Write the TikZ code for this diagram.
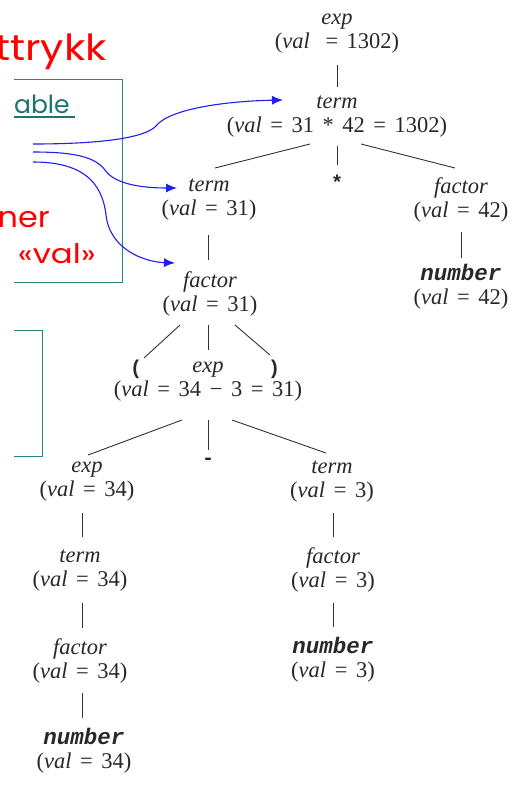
\documentclass[tikz,border=0pt]{standalone}
\usepackage{fontspec}
\setmainfont{Liberation Serif}
\newfontfamily\redfont{Poppins}
\newfontfamily\monob{Liberation Mono}
\usetikzlibrary{calc,arrows.meta}
\definecolor{teal1}{RGB}{40,130,130}
\definecolor{teal2}{RGB}{30,115,115}
\definecolor{arrblue}{RGB}{30,30,245}
\definecolor{treeline}{RGB}{50,50,50}
\definecolor{treetext}{RGB}{40,40,40}
\tikzset{
  tnode/.style={align=center, inner sep=0pt, text=treetext, font=\fontsize{22.5}{24}\selectfont},
  tsym/.style={inner sep=0pt, text=treetext, font=\fontsize{20}{24}\selectfont\monob\bfseries},
  tline/.style={draw=treeline, line width=0.9pt},
  barrow/.style={draw=arrblue, line width=1.1pt, -{Latex[length=11pt,width=9pt]}},
  redtxt/.style={text=red, inner sep=0pt},
}
\newcommand{\gsp}{\hspace{0.38em}}
\newcommand{\vl}[1]{(\textit{val}\gsp=\gsp#1)}
\newcommand{\nm}{{\monob\bfseries\itshape number}}
\begin{document}
\begin{tikzpicture}[x=1pt,y=-1pt]
\useasboundingbox (0,0) rectangle (529,801);
\clip (0,0) rectangle (529,801);
\fill[white] (0,0) rectangle (529,801);
% left decorations
\node[redtxt, anchor=base east, xscale=1.15, font=\fontsize{36}{40}\selectfont\redfont] (ttl) at (107,60) {ttrykk};
\draw[teal1, line width=1pt] (14,79) -- (122,79) -- (122,282) -- (14,282);
\draw[teal1, line width=1pt] (14,330) -- (42,330) -- (42,456) -- (14,456);
\node[anchor=base west, text=teal2, inner sep=0pt, font=\fontsize{25}{28}\selectfont\redfont] (abl) at (14,113) {able};
\draw[teal2, line width=1.3pt] (14,117) -- (75,117);
\node[redtxt, anchor=base east, xscale=1.1, font=\fontsize{29}{32}\selectfont\redfont] (ner) at (50,227) {ner};
\node[redtxt, anchor=base east, xscale=1.2, font=\fontsize{27}{30}\selectfont\redfont] (gv) at (96,263) {«val»};
% tree nodes
\node[tnode] (e0) at (337,33.5) {\textit{exp}\\(\textit{val}\hspace{0.7em}=\gsp1302)};
\node[tnode] (t0) at (337,116.5) {\textit{term}\\\vl{31\gsp*\gsp42\gsp=\gsp1302}};
\node[tsym] (star) at (337,182) {*};
\node[tnode] (t1) at (209,200) {\textit{term}\\\vl{31}};
\node[tnode] (f0) at (461,200) {\textit{factor}\\\vl{42}};
\node[tnode] (n0) at (461,286.5) {\nm\\\vl{42}};
\node[tnode] (f1) at (210,293.5) {\textit{factor}\\\vl{31}};
\node[tnode] (e1) at (208,381.5) {\textit{exp}\\\vl{34\gsp−\gsp3\gsp=\gsp31}};
\node[tsym] (lp) at (136,369) {(};
\node[tsym] (rp) at (274,369) {)};
\node[tsym] (minus) at (208,461) {-};
\node[tnode] (e2) at (87,481.5) {\textit{exp}\\\vl{34}};
\node[tnode] (t3) at (332,481.5) {\textit{term}\\\vl{3}};
\node[tnode] (t2) at (80,570.5) {\textit{term}\\\vl{34}};
\node[tnode] (f3) at (333,570) {\textit{factor}\\\vl{3}};
\node[tnode] (f2) at (80,660.5) {\textit{factor}\\\vl{34}};
\node[tnode] (n2) at (333,659.5) {\nm\\\vl{3}};
\node[tnode] (n1) at (84,750.5) {\nm\\\vl{34}};
% tree lines
\draw[tline] ($(e0)+(0,31.5)$) -- ($(t0)+(0,-29.5)$);
\draw[tline] ($(t0)+(-27,27.5)$) -- ($(t1)+(6,-32)$);
\draw[tline] ($(t0)+(0,29.5)$) -- ($(star)+(0,-17)$);
\draw[tline] ($(t0)+(24,27.5)$) -- ($(f0)+(-6,-32)$);
\draw[tline] ($(t1)+(-1,35)$) -- ($(f1)+(-2,-33.5)$);
\draw[tline] ($(f0)+(0,32)$) -- ($(n0)+(0,-28.5)$);
\draw[tline] ($(f1)+(-30,31.5)$) -- ($(lp)+(8,-11)$);
\draw[tline] ($(f1)+(-2,31.5)$) -- ($(e1)+(0,-31.5)$);
\draw[tline] ($(f1)+(25,31.5)$) -- ($(rp)+(-4,-14)$);
\draw[tline] ($(e1)+(-26,38.5)$) -- ($(e2)+(1,-26.5)$);
\draw[tline] ($(e1)+(0,38.5)$) -- ($(minus)+(0,-11)$);
\draw[tline] ($(e1)+(24,38.5)$) -- ($(t3)+(-6,-28.5)$);
\draw[tline] ($(e2)+(-5,31.5)$) -- ($(t2)+(2,-33.5)$);
\draw[tline] ($(t3)+(1,31.5)$) -- ($(f3)+(0,-33)$);
\draw[tline] ($(t2)+(2,32.5)$) -- ($(f2)+(2,-32.5)$);
\draw[tline] ($(f3)+(0,33)$) -- ($(n2)+(0,-32.5)$);
\draw[tline] ($(f2)+(2,32.5)$) -- ($(n1)+(-2,-32.5)$);
% blue arrows
\coordinate (sa) at (33,144);
\coordinate (sb) at (33,152);
\coordinate (sc) at (33,162);
\draw[barrow] (sa) .. controls (100,144) and (145,138) .. (156,126) .. controls (170,108) and (230,101) .. ($(t0)+(-54,-16.5)$);
\draw[barrow] (sb) .. controls (75,152) and (95,157) .. (105,170) .. controls (115,185) and (145,188) .. ($(t1)+(-32,-12)$);
\draw[barrow] (sc) .. controls (80,162) and (102,180) .. (106,215) .. controls (110,250) and (145,262) .. ($(f1)+(-35,-30.5)$);
\end{tikzpicture}
\end{document}
